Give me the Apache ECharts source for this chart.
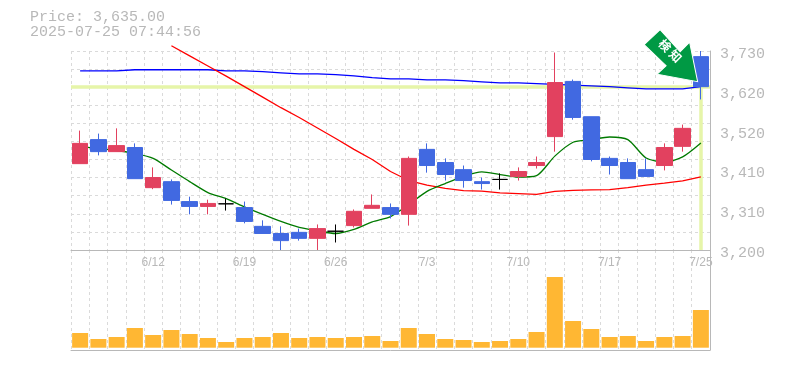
<!DOCTYPE html>
<html><head><meta charset="utf-8">
<style>html,body{margin:0;padding:0;background:#fff}#c{width:785px;height:370px}</style>
<script src="https://cdn.jsdelivr.net/npm/echarts@6/dist/echarts.min.js"></script>
</head><body><div id="c"></div>
<script>
const categories = ['6/6','6/9','6/10','6/11','6/12','6/13','6/16','6/17','6/18','6/19','6/20','6/23','6/24','6/25','6/26','6/27','6/30','7/1','7/2','7/3','7/4','7/7','7/8','7/9','7/10','7/11','7/14','7/15','7/16','7/17','7/18','7/22','7/23','7/24','7/25'];
const xTickLabels = ['6/12','6/19','6/26','7/3','7/10','7/17','7/25'];
const yTickValues = [3200,3306,3412,3518,3624,3730];
// open, close, low, high
const candles = [
[3430,3484,3430,3518],[3494,3462,3452,3510],[3462,3478,3462,3524],[3473,3390,3390,3484],[3366,3393,3362,3420],
[3382,3332,3321,3388],[3329,3316,3295,3342],[3316,3324,3295,3334],[3323,3323,3305,3337],[3313,3276,3271,3329],
[3263,3244,3244,3279],[3244,3225,3200,3263],[3247,3231,3225,3257],[3231,3257,3200,3268],[3250,3250,3220,3268],
[3265,3303,3260,3308],[3311,3319,3311,3348],[3313,3295,3284,3324],[3295,3444,3265,3449],[3468,3425,3406,3484],
[3433,3401,3385,3444],[3414,3385,3366,3425],[3382,3377,3361,3393],[3388,3388,3361,3404],[3396,3409,3385,3420],
[3425,3433,3417,3449],[3502,3646,3462,3726],[3649,3553,3547,3654],[3555,3441,3436,3555],[3444,3425,3401,3449],
[3433,3390,3390,3444],[3414,3396,3396,3444],[3425,3473,3412,3484],[3476,3524,3462,3534],[3715,3635,3601,3730]];
const volumes = [147,87,107,197,127,177,137,97,57,97,107,147,97,107,97,107,117,67,197,137,87,77,57,67,87,157,707,267,187,107,117,67,107,117,377];
const maShort = [3476,3470,3465,3457,3444,3413,3382,3353,3337,3315,3295,3276,3260,3251,3244,3255,3275,3289,3321,3356,3377,3396,3408,3401,3394,3398,3450,3487,3494,3501,3494,3445,3434,3448,3485];
const maMid = [null,null,null,null,null,3744,3717,3690,3663,3635,3607,3579,3553,3525,3497,3468,3441,3409,3385,3373,3364,3358,3357,3352,3350,3348,3356,3359,3360,3361,3366,3373,3378,3384,3395];
const maLong = [3677,3677,3677,3680,3680,3680,3680,3680,3677,3677,3675,3672,3669,3669,3667,3664,3659,3656,3656,3653,3653,3651,3648,3645,3645,3643,3641,3639,3637,3635,3632,3629,3629,3629,3635];
const price = 3635;
const lastDate = '7/25';
const infoLines = ['Price: 3,635.00','2025-07-25 07:44:56'];

const GREY='#b8b8b8', GRID='#dadada', MONO='"Liberation Mono",monospace';
const chart = echarts.init(document.getElementById('c'),null,{renderer:'canvas'});
const vSplit={show:true,interval:0,lineStyle:{color:GRID,type:[3,3],width:1}};
chart.setOption({
 animation:false,
 backgroundColor:'#fff',
 title:{text:infoLines.join('\n'),left:25,top:5,padding:[5,5,5,5],textStyle:{fontFamily:MONO,fontSize:15,fontWeight:'normal',color:GREY,lineHeight:15}},
 grid:[{left:71,top:51,width:639,height:199},{left:71,top:250,width:639,height:100}],
 xAxis:[
  {type:'category',gridIndex:0,data:categories,boundaryGap:true,axisTick:{show:false},
   axisLine:{onZero:false,lineStyle:{color:GREY,width:1}},splitLine:vSplit,
   axisLabel:{interval:(i,v)=>xTickLabels.includes(v),margin:7,color:GREY,fontFamily:'"Liberation Sans",sans-serif',fontSize:12}},
  {type:'category',gridIndex:1,data:categories,boundaryGap:true,axisTick:{show:false},
   axisLine:{onZero:false,lineStyle:{color:GREY,width:1}},splitLine:vSplit,axisLabel:{show:false}}
 ],
 yAxis:[
  {type:'value',gridIndex:0,position:'right',min:3200,max:3730,splitLine:{show:false},axisTick:{show:false},
   axisLine:{show:true,lineStyle:{color:GREY,width:1}},
   axisLabel:{customValues:yTickValues,margin:10,verticalAlign:'top',lineHeight:6,color:GREY,fontFamily:MONO,fontSize:15,
    formatter:v=>(Math.round(v/10)*10).toLocaleString('en-US')}},
  {type:'value',gridIndex:0,position:'right',min:0,max:11,interval:1,axisLabel:{show:false},axisTick:{show:false},axisLine:{show:false},
   splitLine:{show:true,lineStyle:{color:GRID,type:[3,3],width:1}}},
  {type:'value',gridIndex:1,position:'right',min:-23,max:977,splitLine:{show:false},axisLabel:{show:false},axisTick:{show:false},
   axisLine:{show:true,onZero:false,lineStyle:{color:GREY,width:1}}}
 ],
 series:[
  {type:'line',name:'long',data:maLong,xAxisIndex:0,yAxisIndex:0,symbol:'none',z:3,lineStyle:{color:'#0000ff',width:1.3},
   markLine:{silent:true,symbol:'none',z:2,label:{show:false},lineStyle:{color:'#e6f5a9',width:3.5,type:'solid'},
    data:[{yAxis:price},[{xAxis:lastDate,yAxis:price},{xAxis:lastDate,yAxis:3200}]]}},
  {type:'line',name:'mid',data:maMid,xAxisIndex:0,yAxisIndex:0,symbol:'none',z:3,clip:false,lineStyle:{color:'#ff0000',width:1.3}},
  {type:'line',name:'short',data:maShort,xAxisIndex:0,yAxisIndex:0,symbol:'none',z:3,smooth:0.25,lineStyle:{color:'#007a00',width:1.3}},
  {type:'candlestick',name:'price',data:candles,xAxisIndex:0,yAxisIndex:0,barWidth:16,z:5,clip:false,
   itemStyle:{color:'#e2415f',color0:'#4169e1',borderColor:'#e2415f',borderColor0:'#4169e1',borderColorDoji:'#000',borderWidth:1},
   markPoint:{silent:true,z:10,
    symbol:'path://M659 29 L643 44 L665 65 L656 73.5 L696.5 81 L688.5 41.5 L679 51 Z',
    symbolSize:[53.5,52],symbolOffset:[-30,-31],
    itemStyle:{color:'#009944',borderColor:'#fff',borderWidth:1},
    label:{show:true,formatter:'検 知',color:'#fff',fontFamily:'"Noto Sans CJK JP"',fontWeight:'bold',fontSize:12,rotate:-45,position:'inside',offset:[-4,-3]},
    data:[{coord:[lastDate,price]}]}},
  {type:'bar',name:'volume',data:volumes,xAxisIndex:1,yAxisIndex:2,barWidth:16,itemStyle:{color:'#ffb733'}}
 ]
});
</script></body></html>
